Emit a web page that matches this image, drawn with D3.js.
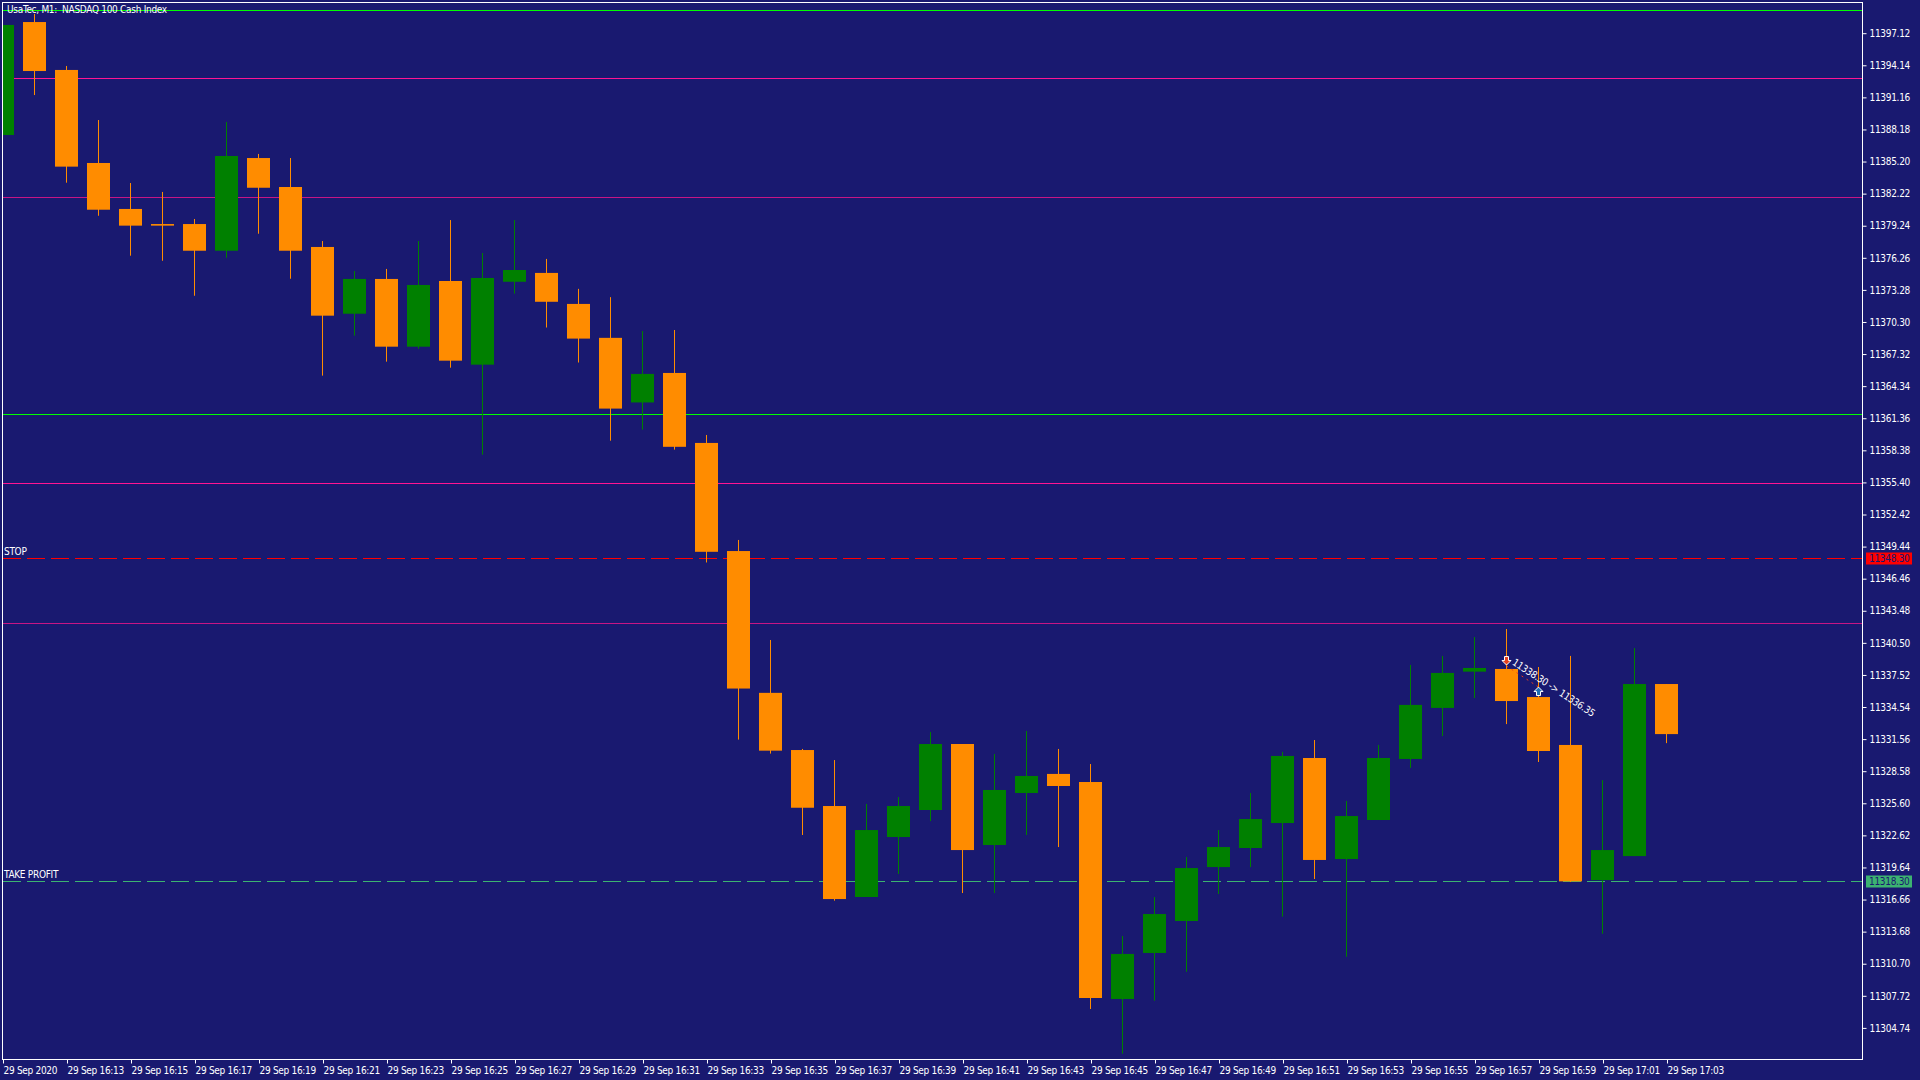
<!DOCTYPE html>
<html>
<head>
<meta charset="utf-8">
<script src="https://cdn.jsdelivr.net/npm/d3@7"></script>
<style>
  body { margin: 0; background: #191970; overflow: hidden; }
  svg { display: block; }
  text { font-family: "DejaVu Sans Condensed", "Liberation Sans Narrow", "Liberation Sans", sans-serif; font-size: 10px; letter-spacing: -0.3px; fill: #fff; }
</style>
</head>
<body>
<div id="viz"></div>
<script>
var TITLE = 'UsaTec, M1:  NASDAQ 100 Cash Index';
var START = new Date(2020, 8, 29, 16, 11);

// one candle per minute, 16:11 .. 17:03
var OPEN = [11387.62, 11398.11, 11393.66, 11385.02, 11380.75, 11379.35, 11379.35, 11376.87, 11385.48, 11382.79,
  11377.22, 11371.02, 11374.25, 11367.96, 11374.06, 11366.29, 11373.99, 11374.81, 11371.93, 11368.78,
  11362.78, 11365.52, 11359.02, 11348.98, 11335.81, 11330.50, 11325.30, 11316.85, 11322.42, 11324.93,
  11331.06, 11321.68, 11326.51, 11328.28, 11327.53, 11307.38, 11311.65, 11314.62, 11319.63, 11321.40,
  11323.72, 11329.76, 11320.38, 11324.00, 11329.67, 11334.41, 11337.78, 11338.03, 11335.42, 11330.97,
  11318.42, 11320.65, 11336.63];
var HIGH = [11397.84, 11398.86, 11394.03, 11389.01, 11383.16, 11382.33, 11379.82, 11388.83, 11385.86, 11385.48,
  11377.77, 11374.99, 11375.18, 11377.77, 11379.72, 11376.66, 11379.72, 11376.11, 11373.33, 11372.56,
  11369.41, 11369.51, 11359.76, 11350.01, 11340.72, 11330.60, 11329.57, 11325.49, 11326.13, 11332.17,
  11331.06, 11330.13, 11332.27, 11330.60, 11329.20, 11313.23, 11316.85, 11320.56, 11323.07, 11326.51,
  11330.32, 11331.43, 11325.77, 11330.97, 11338.40, 11339.24, 11341.00, 11341.74, 11338.21, 11339.24,
  11327.71, 11339.97, 11336.63];
var LOW = [11387.62, 11391.33, 11383.19, 11380.12, 11376.41, 11375.94, 11372.69, 11376.22, 11378.45, 11374.27,
  11365.27, 11368.98, 11366.57, 11367.77, 11366.01, 11357.93, 11372.89, 11369.74, 11366.49, 11359.23,
  11360.26, 11358.40, 11347.92, 11331.47, 11330.17, 11322.61, 11316.51, 11316.85, 11318.99, 11323.90,
  11317.22, 11317.22, 11322.61, 11321.49, 11306.45, 11302.30, 11307.22, 11309.91, 11317.13, 11319.63,
  11315.03, 11318.52, 11311.30, 11324.00, 11328.84, 11331.80, 11335.33, 11332.91, 11329.39, 11318.24,
  11313.44, 11320.65, 11331.14];
var CLOSE = [11397.84, 11393.56, 11384.68, 11380.68, 11379.20, 11379.20, 11376.87, 11385.67, 11382.72, 11376.87,
  11370.84, 11374.25, 11367.96, 11373.69, 11366.66, 11374.34, 11375.08, 11372.13, 11368.71, 11362.21,
  11365.43, 11358.66, 11348.91, 11336.21, 11330.44, 11325.14, 11316.66, 11323.07, 11325.30, 11331.06,
  11321.21, 11326.79, 11328.09, 11327.16, 11307.47, 11311.56, 11315.27, 11319.54, 11321.49, 11324.09,
  11329.95, 11320.29, 11324.37, 11329.76, 11334.69, 11337.66, 11338.12, 11335.05, 11330.41, 11318.30,
  11321.21, 11336.63, 11331.98];

var PRICE_TICKS = [11397.12, 11394.14, 11391.16, 11388.18, 11385.20, 11382.22, 11379.24, 11376.26, 11373.28,
  11370.30, 11367.32, 11364.34, 11361.36, 11358.38, 11355.40, 11352.42, 11349.44, 11346.46, 11343.48,
  11340.50, 11337.52, 11334.54, 11331.56, 11328.58, 11325.60, 11322.62, 11319.64, 11316.66, 11313.68,
  11310.70, 11307.72, 11304.74];

var LEVELS = [11399.20, 11392.89, 11381.83, 11361.68, 11355.29, 11342.30];
var LEVEL_COLORS = ['#00ff00', '#ff1493', '#c71585', '#00ff00', '#ff1493', '#c71585'];

var STOP = 11348.30;
var TAKE_PROFIT = 11318.30;
var TRADE_MINUTES = [47, 48];
var TRADE_PRICES = [11338.30, 11336.35];

var W = 1920, H = 1080;
var L = 2, T = 2, R = 1862, B = 1059;
var BULL = '#008000', BEAR = '#ff8c00';

var candles = OPEN.map(function (o, i) {
  return { t: d3.timeMinute.offset(START, i), o: o, h: HIGH[i], l: LOW[i], c: CLOSE[i] };
});

var x = d3.scaleTime()
    .domain([START, d3.timeMinute.offset(START, OPEN.length - 1)])
    .range([2.5, 2.5 + 32 * (OPEN.length - 1)]);
var y = d3.scaleLinear().domain([11301.805, 11399.878]).range([B, T + 1]);

var svg = d3.select('#viz').append('svg')
    .attr('width', W)
    .attr('height', H);

svg.append('rect').attr('width', W).attr('height', H).attr('fill', '#191970');

svg.append('clipPath').attr('id', 'plot')
  .append('rect').attr('x', L + 1).attr('y', T + 1).attr('width', R - L - 1).attr('height', B - T - 1);

var plot = svg.append('g').attr('clip-path', 'url(#plot)');

// support / resistance levels
plot.selectAll('line.level').data(LEVELS).join('line')
    .attr('class', 'level')
    .attr('x1', L).attr('x2', R)
    .attr('y1', d => Math.round(y(d)) + 0.5).attr('y2', d => Math.round(y(d)) + 0.5)
    .attr('stroke', (d, i) => LEVEL_COLORS[i])
    .attr('stroke-width', 1);

var orders = [
  { price: STOP, name: 'STOP', color: '#ff0000' },
  { price: TAKE_PROFIT, name: 'TAKE PROFIT', color: '#3cb371' },
];

plot.selectAll('line.order').data(orders).join('line')
    .attr('class', 'order')
    .attr('x1', L + 1).attr('x2', R)
    .attr('y1', d => Math.round(y(d.price)) + 0.5).attr('y2', d => Math.round(y(d.price)) + 0.5)
    .attr('stroke', d => d.color)
    .attr('stroke-width', 1)
    .attr('stroke-dasharray', '18,6');

plot.selectAll('text.order').data(orders).join('text')
    .attr('class', 'order')
    .attr('x', 4)
    .attr('y', d => Math.round(y(d.price)) - 3)
    .text(d => d.name);

// candles
var cg = plot.selectAll('g.candle').data(candles).join('g').attr('class', 'candle');

cg.append('rect')
    .attr('x', d => x(d.t) - 0.5)
    .attr('width', 1)
    .attr('y', d => y(d.h))
    .attr('height', d => Math.max(1, y(d.l) - y(d.h)))
    .attr('fill', d => d.c >= d.o ? BULL : BEAR);

cg.append('rect')
    .attr('x', d => x(d.t) - 11.5)
    .attr('width', 23)
    .attr('y', d => y(Math.max(d.o, d.c)))
    .attr('height', d => Math.max(1.5, Math.abs(y(d.o) - y(d.c))))
    .attr('fill', d => d.c >= d.o ? BULL : BEAR);

// closed sell trade
var tx = TRADE_MINUTES.map(m => x(d3.timeMinute.offset(START, m)));
var ty = TRADE_PRICES.map(p => y(p));

plot.append('line')
    .attr('x1', tx[0]).attr('y1', ty[0])
    .attr('x2', tx[1]).attr('y2', ty[1])
    .attr('stroke', '#e8401c')
    .attr('stroke-width', 1)
    .attr('stroke-dasharray', '2,4');

var downArrow = 'M0,0 L-4.5,-4.5 L-2,-4.5 L-2,-8.5 L2,-8.5 L2,-4.5 L4.5,-4.5 Z';
var upArrow = 'M0,0 L-4.5,4.5 L-2,4.5 L-2,8.5 L2,8.5 L2,4.5 L4.5,4.5 Z';

plot.append('path')
    .attr('d', downArrow)
    .attr('transform', 'translate(' + tx[0] + ',' + (ty[0] - 1) + ')')
    .attr('fill', '#e8401c')
    .attr('stroke', '#fff');

plot.append('path')
    .attr('d', upArrow)
    .attr('transform', 'translate(' + tx[1] + ',' + ty[1] + ')')
    .attr('fill', '#1e6fb5')
    .attr('stroke', '#fff');

var angle = Math.atan2(ty[1] - ty[0], tx[1] - tx[0]) * 180 / Math.PI;
plot.append('text')
    .attr('transform', 'translate(' + (tx[0] + 5) + ',' + (ty[0] - 2) + ') rotate(' + angle + ')')
    .style('font-size', '10px')
    .text(d3.format('.2f')(TRADE_PRICES[0]) + ' -> ' + d3.format('.2f')(TRADE_PRICES[1]));

// title
svg.append('text')
    .attr('x', 7)
    .attr('y', 13)
    .attr('xml:space', 'preserve')
    .text(TITLE);

// frame
svg.append('rect')
    .attr('x', L + 0.5).attr('y', T + 0.5)
    .attr('width', R - L).attr('height', B - T)
    .attr('fill', 'none')
    .attr('stroke', '#fff')
    .attr('stroke-width', 1);

// price scale
var yAxis = d3.axisRight(y)
    .tickValues(PRICE_TICKS)
    .tickFormat(d3.format('.2f'))
    .tickSize(4)
    .tickPadding(3);

var gy = svg.append('g')
    .attr('transform', 'translate(' + (R + 0.5) + ',0.5)')
    .call(yAxis);
gy.select('.domain').remove();
gy.selectAll('line').attr('stroke', '#fff');
gy.selectAll('text').attr('fill', '#fff').attr('font-size', null).attr('font-family', null);

var tags = svg.selectAll('g.tag').data(orders).join('g')
    .attr('class', 'tag')
    .attr('transform', d => 'translate(' + (R + 4) + ',' + Math.round(y(d.price)) + ')');
tags.append('rect')
    .attr('y', -5.5).attr('height', 12)
    .attr('width', 46)
    .attr('fill', d => d.color);
tags.append('text')
    .attr('x', 3).attr('y', 4)
    .style('fill', '#191970')
    .text(d => d3.format('.2f')(d.price));

// time scale
var timeTicks = d3.range(0, OPEN.length, 2).map(i => d3.timeMinute.offset(START, i));
var fmt = d3.timeFormat('%-d %b %H:%M');

var xAxis = d3.axisBottom(x)
    .tickValues(timeTicks)
    .tickFormat((d, i) => i === 0 ? '29 Sep 2020' : fmt(d))
    .tickSize(4)
    .tickPadding(3);

var gx = svg.append('g')
    .attr('transform', 'translate(0.5,' + (B + 0.5) + ')')
    .call(xAxis);
gx.select('.domain').remove();
gx.selectAll('line').attr('stroke', '#fff');
gx.selectAll('text')
    .attr('fill', '#fff')
    .attr('text-anchor', 'start')
    .attr('dx', 0)
    .attr('font-size', null)
    .attr('font-family', null);
</script>
</body>
</html>
